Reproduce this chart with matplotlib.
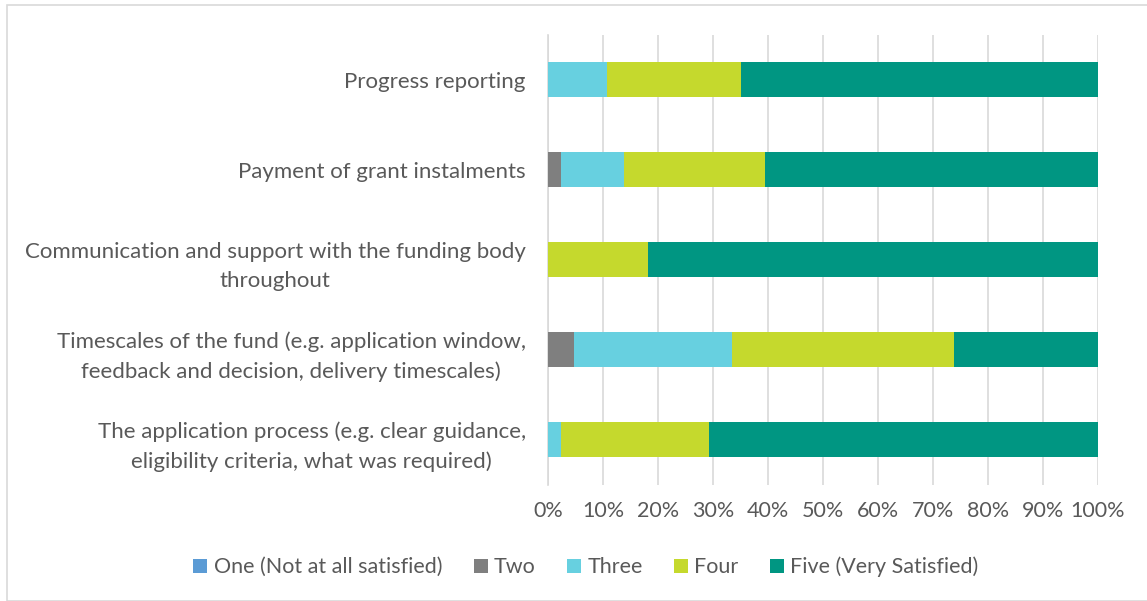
import numpy as np
import matplotlib.pyplot as plt
from matplotlib import patches

categories = [
    "Progress reporting",
    "Payment of grant instalments",
    "Communication and support with the funding body\nthroughout",
    "Timescales of the fund (e.g. application window,\nfeedback and decision, delivery timescales)",
    "The application process (e.g. clear guidance,\neligibility criteria, what was required)",
]
series_names = ["One (Not at all satisfied)", "Two", "Three", "Four", "Five (Very Satisfied)"]
one = [0.0, 0.0, 0.0, 0.0, 0.0]
two = [0.0, 2.3, 0.0, 4.8, 0.0]
three = [10.8, 11.6, 0.0, 28.6, 2.4]
four = [24.3, 25.6, 18.2, 40.5, 26.8]
five = [64.9, 60.5, 81.8, 26.2, 70.8]
colors = ["#5b9bd5", "#7f7f7f", "#67d0e0", "#c5d92d", "#009682"]
tick_labels = ["%d%%" % v for v in range(0, 101, 10)]

plt.rcParams['font.family'] = ['Lato', 'DejaVu Sans']
text_color = "#595959"
fs = 15.5

W, H = 1147, 601
fig = plt.figure(figsize=(W / 100, H / 100), dpi=100)
fig.patches.append(patches.Rectangle((7 / W, 0), 1.0, 1 - 5 / H, transform=fig.transFigure,
                                     fill=False, edgecolor="#d9d9d9", linewidth=1.2))

ax = fig.add_axes([548 / W, 1 - 484.5 / H, 550 / W, 450 / H])
y = np.arange(len(categories))
left = np.zeros(len(categories))
for name, vals, c in zip(series_names, [one, two, three, four, five], colors):
    vals = np.array(vals)
    ax.barh(y, vals, left=left, height=0.39, color=c, label=name, zorder=3)
    left += vals

ax.set_ylim(len(categories) - 0.5, -0.5)
ax.set_xlim(0, 100)
ax.set_xticks(range(0, 101, 10))
ax.set_xticklabels(tick_labels)
ax.set_yticks(y)
ax.set_yticklabels(categories, ha="right", multialignment="center", linespacing=1.6)
ax.tick_params(axis="y", length=0, pad=16, labelsize=16, labelcolor=text_color)
ax.tick_params(axis="x", length=0, pad=12, labelsize=fs, labelcolor=text_color)
ax.grid(axis="x", color="#d9d9d9", linewidth=1.2, zorder=0)
for s in ["top", "right", "bottom"]:
    ax.spines[s].set_visible(False)
ax.spines["left"].set_color("#d9d9d9")
ax.spines["left"].set_linewidth(1.2)

leg = fig.legend(loc="center", bbox_to_anchor=(586 / W, 1 - 567 / H), ncol=5, frameon=False,
                 fontsize=fs, handlelength=0.65, handleheight=0.65, handletextpad=0.3,
                 columnspacing=1.45)
for t in leg.get_texts():
    t.set_color(text_color)

fig.savefig("out.png", dpi=100)
